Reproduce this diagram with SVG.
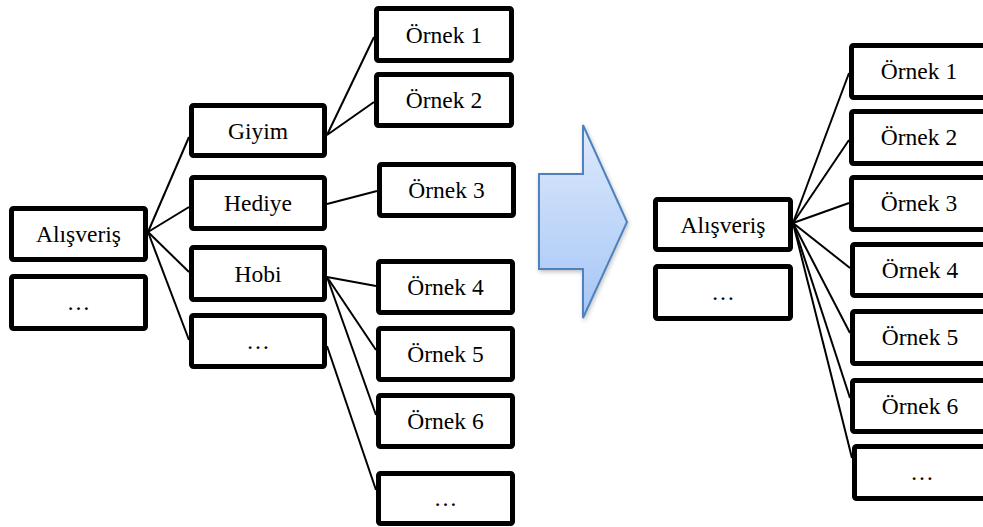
<svg xmlns="http://www.w3.org/2000/svg" width="983" height="527" viewBox="0 0 983 527">
<style>
.box rect{fill:#fff;stroke:#000;stroke-width:5;}
.box text{font-family:"Liberation Serif","Times New Roman",serif;font-size:23.5px;fill:#000;text-anchor:middle;}
.conn line{stroke:#000;stroke-width:2;}
</style>
<defs>
<linearGradient id="ag" x1="0" y1="0" x2="0" y2="1">
<stop offset="0" stop-color="#dde9fc"/>
<stop offset="1" stop-color="#a5c6f6"/>
</linearGradient>
<filter id="sh" x="-20%" y="-20%" width="140%" height="140%">
<feDropShadow dx="1" dy="2" stdDeviation="2" flood-color="#000" flood-opacity="0.25"/>
</filter>
</defs>
<rect width="983" height="527" fill="#fff"/>
<g id="connectors" class="conn">
<line x1="148" y1="232" x2="189" y2="137"/>
<line x1="148" y1="232" x2="189" y2="207"/>
<line x1="148" y1="232" x2="189" y2="272"/>
<line x1="148" y1="232" x2="189" y2="340"/>
<line x1="327" y1="135" x2="374" y2="37"/>
<line x1="327" y1="135" x2="374" y2="102"/>
<line x1="327" y1="204" x2="377" y2="191"/>
<line x1="327" y1="277" x2="376" y2="286"/>
<line x1="327" y1="277" x2="376" y2="350"/>
<line x1="327" y1="277" x2="376" y2="415"/>
<line x1="327" y1="346" x2="376" y2="490"/>
<line x1="793" y1="223" x2="849" y2="73"/>
<line x1="793" y1="223" x2="849" y2="140"/>
<line x1="793" y1="223" x2="849" y2="203"/>
<line x1="793" y1="223" x2="850" y2="268"/>
<line x1="793" y1="223" x2="850" y2="333"/>
<line x1="793" y1="223" x2="850" y2="398"/>
<line x1="793" y1="223" x2="852" y2="458"/>
</g>
<g id="arrow">
<polygon points="539,174 583,174 583,125 627,222 583,318 583,269 539,269" fill="url(#ag)" stroke="#4f81bd" stroke-width="2" filter="url(#sh)"/>
</g>
<g id="l-alisveris" class="box"><rect x="11.5" y="208.5" width="134" height="51" rx="2"/><text x="78.5" y="242">Alışveriş</text></g>
<g id="l-dots1" class="box"><rect x="11.5" y="276.5" width="134" height="52" rx="2"/><text x="78.5" y="310">…</text></g>
<g id="l-giyim" class="box"><rect x="191.5" y="105.5" width="133" height="50" rx="2"/><text x="258" y="138.5">Giyim</text></g>
<g id="l-hediye" class="box"><rect x="191.5" y="177.5" width="133" height="51" rx="2"/><text x="258" y="211">Hediye</text></g>
<g id="l-hobi" class="box"><rect x="191.5" y="247.5" width="133" height="52" rx="2"/><text x="258" y="281.5">Hobi</text></g>
<g id="l-dots2" class="box"><rect x="191.5" y="315.5" width="133" height="51" rx="2"/><text x="258" y="349">…</text></g>
<g id="l-ornek1" class="box"><rect x="376.5" y="8.5" width="135" height="52" rx="2"/><text x="444" y="43">Örnek 1</text></g>
<g id="l-ornek2" class="box"><rect x="376.5" y="74.5" width="135" height="51" rx="2"/><text x="444" y="108">Örnek 2</text></g>
<g id="l-ornek3" class="box"><rect x="379.5" y="164.5" width="134" height="51" rx="2"/><text x="446.5" y="198">Örnek 3</text></g>
<g id="l-ornek4" class="box"><rect x="378.5" y="261.5" width="134" height="51" rx="2"/><text x="445.5" y="295">Örnek 4</text></g>
<g id="l-ornek5" class="box"><rect x="378.5" y="328.5" width="134" height="51" rx="2"/><text x="445.5" y="362">Örnek 5</text></g>
<g id="l-ornek6" class="box"><rect x="378.5" y="395.5" width="134" height="51" rx="2"/><text x="445.5" y="429">Örnek 6</text></g>
<g id="l-dots3" class="box"><rect x="378.5" y="473.5" width="134" height="50" rx="2"/><text x="445.5" y="506">…</text></g>
<g id="r-alisveris" class="box"><rect x="655.5" y="199.5" width="135" height="50" rx="2"/><text x="723" y="232.5">Alışveriş</text></g>
<g id="r-dots1" class="box"><rect x="655.5" y="266.5" width="135" height="52" rx="2"/><text x="723" y="300">…</text></g>
<g id="r-ornek1" class="box"><rect x="851.5" y="45.5" width="135" height="52" rx="2"/><text x="919" y="79">Örnek 1</text></g>
<g id="r-ornek2" class="box"><rect x="851.5" y="111.5" width="135" height="52" rx="2"/><text x="919" y="145">Örnek 2</text></g>
<g id="r-ornek3" class="box"><rect x="851.5" y="177.5" width="135" height="52" rx="2"/><text x="919" y="211">Örnek 3</text></g>
<g id="r-ornek4" class="box"><rect x="852.5" y="244.5" width="135" height="51" rx="2"/><text x="920" y="278">Örnek 4</text></g>
<g id="r-ornek5" class="box"><rect x="852.5" y="311.5" width="135" height="52" rx="2"/><text x="920" y="345">Örnek 5</text></g>
<g id="r-ornek6" class="box"><rect x="852.5" y="380.5" width="135" height="51" rx="2"/><text x="920" y="414">Örnek 6</text></g>
<g id="r-dots2" class="box"><rect x="854.5" y="446.5" width="135" height="52" rx="2"/><text x="922" y="480">…</text></g>
</svg>
